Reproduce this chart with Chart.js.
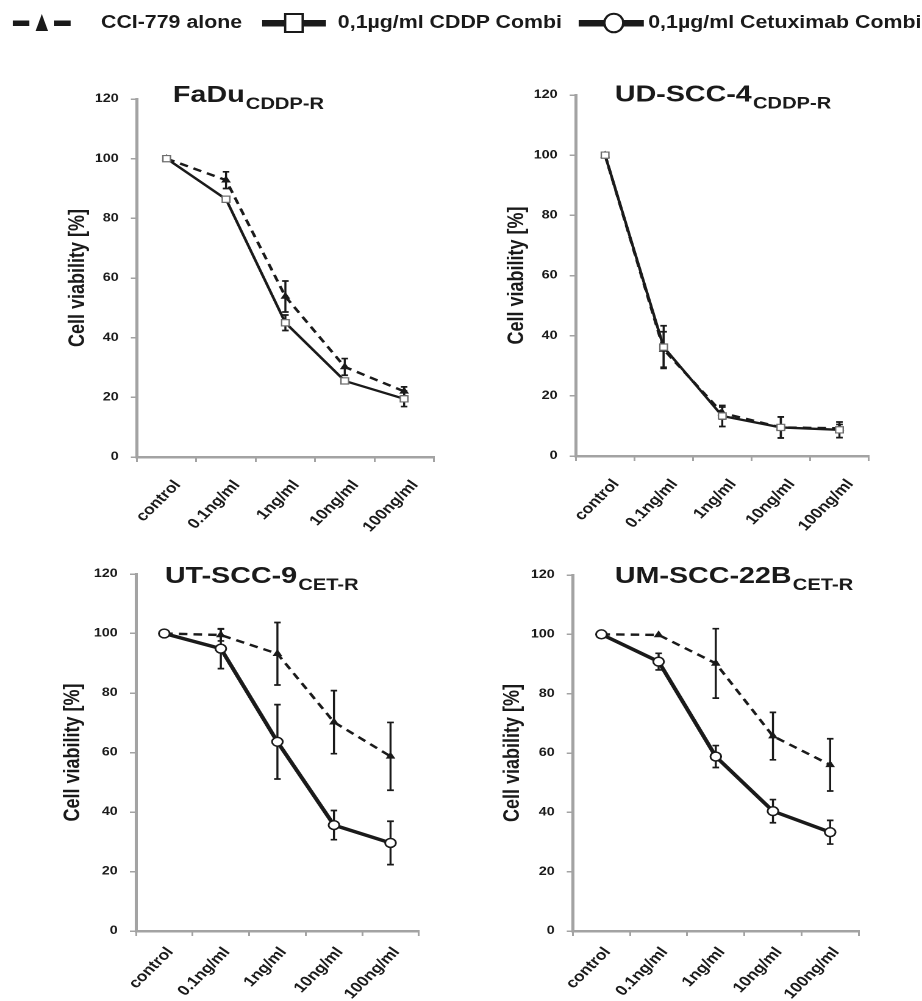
<!DOCTYPE html>
<html>
<head>
<meta charset="utf-8">
<script src="https://cdn.jsdelivr.net/npm/chart.js@4.4.1/dist/chart.umd.min.js"></script>
<style>
  html, body { margin: 0; padding: 0; background: #fff; overflow: hidden; }
  /* the reference is stretched horizontally, so the whole stage is too */
  #stage { position: absolute; left: 0; top: 0; width: 756px; height: 1001px;
           transform: scaleX(1.2196); transform-origin: 0 0; }
  #stage canvas { position: absolute; }
  .lg { position: absolute; top: 12px; line-height: 22px; white-space: nowrap;
        font: bold 17.5px "Liberation Sans", Arial, sans-serif; color: #1a1a1a; }
  #icons { position: absolute; left: 0; top: 0; }
</style>
</head>
<body>
<div id="stage">
  <svg id="icons" width="756" height="44">
    <!-- CCI-779 alone -->
    <rect x="10.6" y="20.5" width="13.4" height="5.5" fill="#1a1a1a"/>
    <polygon points="34.3,14 39.4,31 29.2,31" fill="#1a1a1a"/>
    <rect x="44.3" y="20.5" width="13.7" height="5.5" fill="#1a1a1a"/>
    <!-- CDDP combi -->
    <rect x="214.8" y="20" width="52.4" height="6.5" fill="#1a1a1a"/>
    <rect x="233.8" y="14" width="14.4" height="18" fill="#fff" stroke="#1a1a1a" stroke-width="2"/>
    <!-- Cetuximab combi -->
    <rect x="474.6" y="20" width="53.3" height="6.5" fill="#1a1a1a"/>
    <ellipse cx="503.3" cy="23" rx="7.8" ry="9.3" fill="#fff" stroke="#1a1a1a" stroke-width="2"/>
  </svg>
  <span class="lg" style="left:82.8px">CCI-779 alone</span>
  <span class="lg" style="left:277px">0,1µg/ml CDDP Combi</span>
  <span class="lg" style="left:531.5px">0,1µg/ml Cetuximab Combi</span>
  <canvas id="fadu"></canvas>
  <canvas id="udscc4"></canvas>
  <canvas id="utscc9"></canvas>
  <canvas id="umscc22b"></canvas>
</div>
<script>
const doses = ['control', '0.1ng/ml', '1ng/ml', '10ng/ml', '100ng/ml'];
const yTicks = [0, 20, 40, 60, 80, 100, 120];

// FaDu CDDP-R
const faduCci = [100, 92.8, 53.8, 30.2, 22];
const faduCciSd = [0, 2.8, 5.2, 2.8, 1.5];
const faduCddp = [100, 86.4, 45, 25.5, 19.5];
const faduCddpSd = [0, 0, 2.6, 0, 2.6];

// UD-SCC-4 CDDP-R
const udCci = [100, 35.4, 14.3, 9.5, 9.2];
const udCciSd = [0, 5.9, 2, 3.5, 1.3];
const udCddp = [100, 36.2, 13.3, 9.5, 8.7];
const udCddpSd = [0, 7.1, 3.5, 3.5, 2.6];

// UT-SCC-9 CET-R
const utCci = [100, 99.5, 93.2, 70.2, 58.7];
const utCciSd = [0, 2, 10.5, 10.6, 11.4];
const utCet = [100, 94.9, 63.6, 35.6, 29.6];
const utCetSd = [0, 6.7, 12.5, 4.9, 7.3];

// UM-SCC-22B CET-R
const umCci = [100, 99.8, 90.2, 65.7, 56];
const umCciSd = [0, 0, 11.7, 8, 8.8];
const umCet = [100, 90.8, 58.8, 40.4, 33.3];
const umCetSd = [0, 2.8, 3.7, 3.9, 4];

const ink = '#1a1a1a';
const axisGray = '#a3a3a3';
const fontFamily = '"Liberation Sans", Arial, sans-serif';

function cciSet(values, sd) {
  return { label: 'CCI-779 alone', data: values, sd: sd,
    borderColor: ink, borderWidth: 2.4, borderDash: [7, 5],
    pointStyle: 'triangle', pointRadius: 3.6,
    pointBackgroundColor: ink, pointBorderColor: ink, pointBorderWidth: 1 };
}
function cddpSet(values, sd) {
  return { label: '0,1µg/ml CDDP Combi', data: values, sd: sd,
    borderColor: ink, borderWidth: 2.3,
    pointStyle: 'rect', pointRadius: 4.4,
    pointBackgroundColor: '#fff', pointBorderColor: '#6e6e6e', pointBorderWidth: 1.2 };
}
function cetSet(values, sd) {
  return { label: '0,1µg/ml Cetuximab Combi', data: values, sd: sd,
    borderColor: ink, borderWidth: 3.4,
    pointStyle: 'circle', pointRadius: 4.4,
    pointBackgroundColor: '#fff', pointBorderColor: ink, pointBorderWidth: 1.5 };
}

// vertical error bars with caps, drawn under the lines and markers
const errorBars = {
  id: 'errorBars',
  beforeDatasetsDraw(chart) {
    const ctx = chart.ctx;
    const y = chart.scales.y;
    ctx.save();
    ctx.strokeStyle = ink;
    ctx.lineWidth = 1.7;
    chart.data.datasets.forEach((ds, i) => {
      const meta = chart.getDatasetMeta(i);
      ds.data.forEach((v, j) => {
        const sd = ds.sd[j];
        if (!sd) return;
        const x = meta.data[j].x;
        const top = y.getPixelForValue(v + sd);
        const bot = y.getPixelForValue(v - sd);
        ctx.beginPath();
        ctx.moveTo(x, top); ctx.lineTo(x, bot);
        ctx.moveTo(x - 2.7, top); ctx.lineTo(x + 2.7, top);
        ctx.moveTo(x - 2.7, bot); ctx.lineTo(x + 2.7, bot);
        ctx.stroke();
      });
    });
    ctx.restore();
  }
};

// title with subscript
const panelTitle = {
  id: 'panelTitle',
  afterDraw(chart, args, o) {
    const ctx = chart.ctx;
    ctx.save();
    ctx.fillStyle = ink;
    ctx.textBaseline = 'alphabetic';
    ctx.font = 'bold 23.5px ' + fontFamily;
    ctx.fillText(o.main, o.x, o.y);
    const w = ctx.measureText(o.main).width;
    ctx.font = 'bold 16.5px ' + fontFamily;
    ctx.fillText(o.sub, o.x + w + 1, o.y + 7);
    ctx.restore();
  }
};

const panels = [
  { id: 'fadu', left: 0, top: 50, w: 378, h: 490, padL: 49.1, yW: 63.2, padR: 22.3, padT: 49, xH: 83,
    tickPad: 15, tickShift: 9,
    title: { main: 'FaDu', sub: 'CDDP-R', x: 141.8, y: 52 },
    datasets: [cddpSet(faduCddp, faduCddpSd), cciSet(faduCci, faduCciSd)] },
  { id: 'udscc4', left: 378, top: 50, w: 378, h: 490, padL: 31, yW: 63.1, padR: 43.7, padT: 45, xH: 84,
    tickPad: 15, tickShift: 9,
    title: { main: 'UD-SCC-4', sub: 'CDDP-R', x: 126.1, y: 51.7 },
    datasets: [cddpSet(udCddp, udCddpSd), cciSet(udCci, udCciSd)] },
  { id: 'utscc9', left: 0, top: 540, w: 378, h: 461, padL: 45, yW: 66.5, padR: 34.6, padT: 34, xH: 70,
    tickPad: 8, tickShift: 5,
    title: { main: 'UT-SCC-9', sub: 'CET-R', x: 135.2, y: 43 },
    datasets: [cetSet(utCet, utCetSd), cciSet(utCci, utCciSd)] },
  { id: 'umscc22b', left: 378, top: 540, w: 378, h: 461, padL: 27.7, yW: 64, padR: 51.9, padT: 35, xH: 70,
    tickPad: 8, tickShift: 5,
    title: { main: 'UM-SCC-22B', sub: 'CET-R', x: 126.1, y: 43 },
    datasets: [cetSet(umCet, umCetSd), cciSet(umCci, umCciSd)] }
];

panels.forEach(p => {
  const cv = document.getElementById(p.id);
  cv.width = p.w; cv.height = p.h;
  cv.style.left = p.left + 'px';
  cv.style.top = p.top + 'px';
  new Chart(cv, {
    type: 'line',
    data: { labels: doses, datasets: p.datasets },
    options: {
      responsive: false,
      animation: false,
      devicePixelRatio: 2,
      layout: { padding: { left: p.padL, right: p.padR, top: p.padT, bottom: 0 } },
      elements: { line: { tension: 0 } },
      plugins: {
        legend: { display: false },
        tooltip: { enabled: false },
        panelTitle: p.title
      },
      scales: {
        x: {
          offset: true,
          grid: { display: true, offset: true, drawOnChartArea: false, drawTicks: true,
                  tickLength: 5, color: axisGray, lineWidth: 1.5 },
          border: { display: true, color: axisGray, width: 2.5 },
          ticks: { color: ink, font: { family: fontFamily, size: 14.3, weight: 'bold' },
                   minRotation: 50, maxRotation: 50, padding: p.tickPad, labelOffset: p.tickShift },
          afterFit: s => { s.height = p.xH; }
        },
        y: {
          min: 0, max: 120,
          afterBuildTicks: s => { s.ticks = yTicks.map(v => ({ value: v })); },
          grid: { display: true, drawOnChartArea: false, drawTicks: true,
                  tickLength: 5, color: axisGray, lineWidth: 1.5 },
          border: { display: true, color: axisGray, width: 2.5 },
          ticks: { color: ink, font: { family: fontFamily, size: 11.7, weight: 'bold' }, padding: 10 },
          title: { display: true, text: 'Cell viability [%]', color: ink,
                   font: { family: fontFamily, size: 18, weight: 'bold' },
                   padding: { top: 4, bottom: 0 } },
          afterFit: s => { s.width = p.yW; }
        }
      }
    },
    plugins: [errorBars, panelTitle]
  });
});
</script>
</body>
</html>
